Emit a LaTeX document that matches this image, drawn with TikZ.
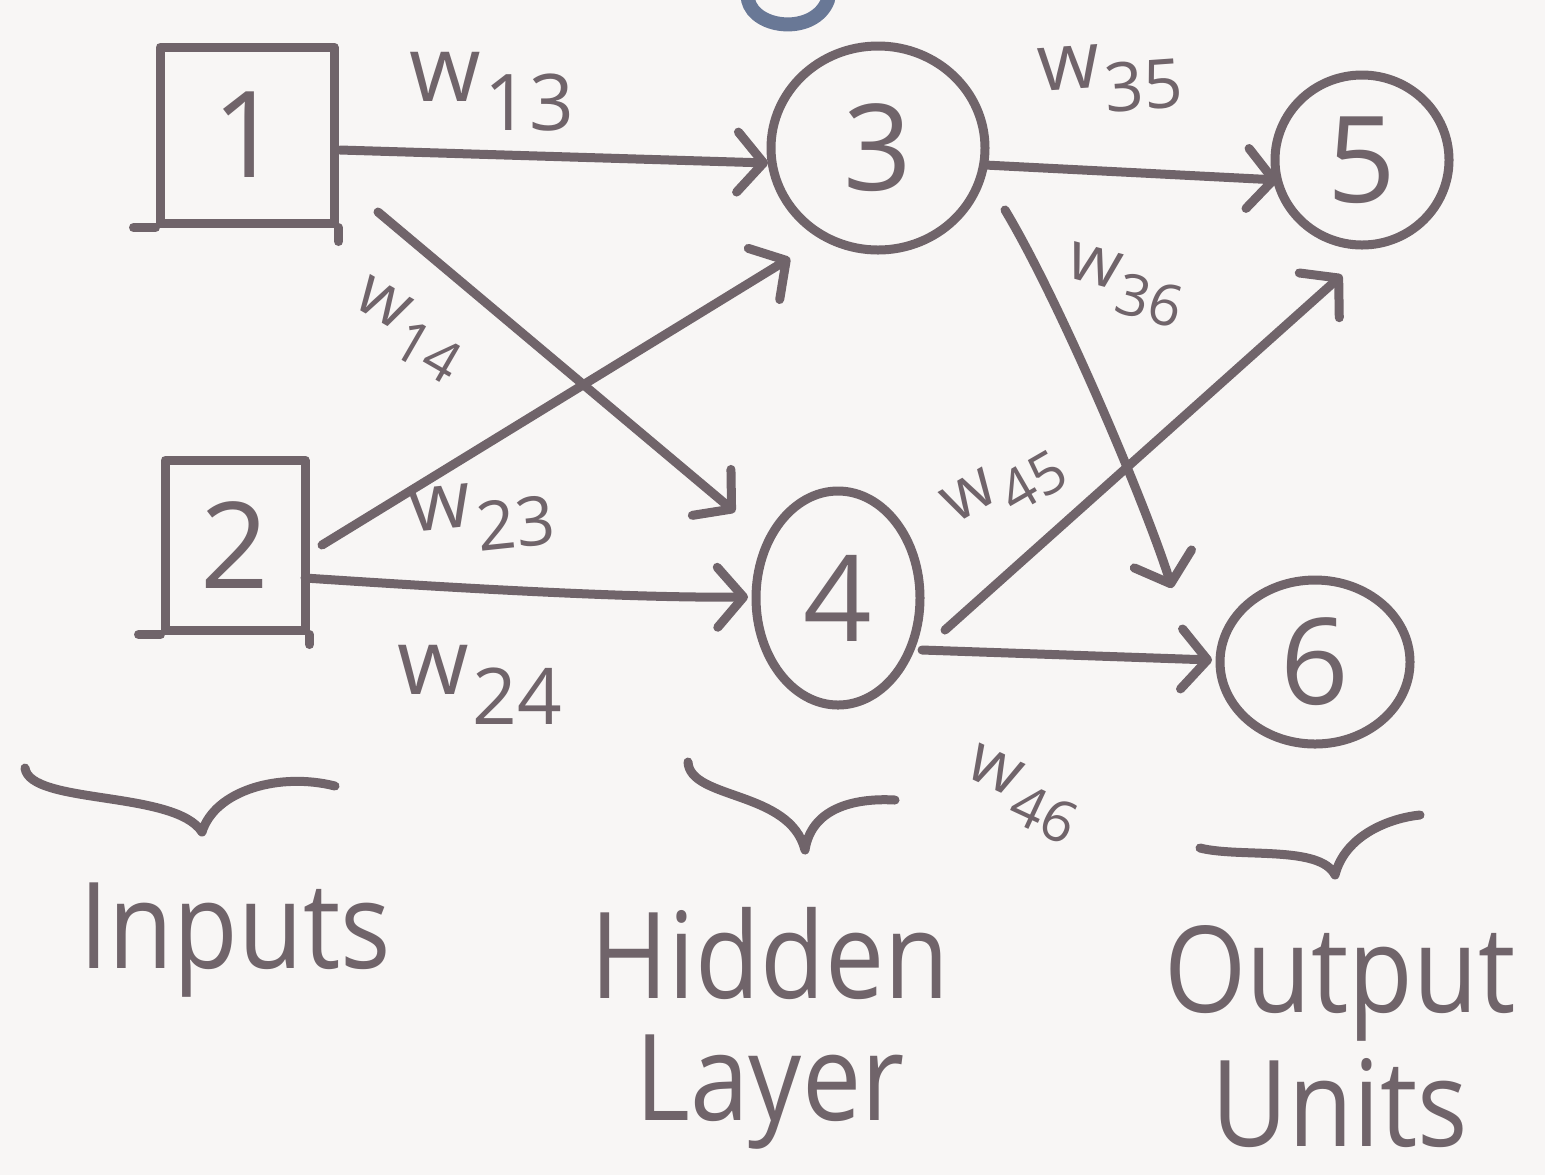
\documentclass[tikz,border=0pt]{standalone}
\usepackage{fontspec}
\setmainfont{Open Sans}
\usetikzlibrary{arrows.meta,shapes.geometric}
\definecolor{ink}{RGB}{112,100,106}
\definecolor{paper}{RGB}{248,246,245}
\definecolor{bluemark}{RGB}{105,120,150}
\newcommand{\wsub}[1]{w\kern0.04em\raisebox{-0.32em}{\scalebox{0.85}{#1}}}
\begin{document}
\begin{tikzpicture}[x=0.5pt,y=-0.5pt,
  every node/.style={text=ink},
  pen/.style={draw=ink, line width=4.5pt, line cap=round, line join=round},
  conn/.style={pen, -{Straight Barb[length=13pt,width=30pt,line cap=round,line join=round]}},
  boxnode/.style={pen, rectangle, inner sep=0pt, font=\fontsize{60}{60}\selectfont},
  unitnode/.style={pen, ellipse, inner sep=0pt, font=\fontsize{60}{60}\selectfont},
  wbig/.style={font=\fontsize{46}{46}\selectfont, inner sep=0pt},
  wmid/.style={font=\fontsize{40}{40}\selectfont, inner sep=0pt},
  wsmall/.style={font=\fontsize{34}{34}\selectfont, inner sep=0pt},
  caption/.style={font=\fontsize{60}{60}\selectfont, xscale=0.88, transform shape, anchor=base, inner sep=0pt}
]
\fill[paper] (0,0) rectangle (1545,1175);
\useasboundingbox (0,0) rectangle (1545,1175);

% stray blue mark at the top
\draw[bluemark, line width=7pt, line cap=round] (748,0) .. controls (755,30) and (815,35) .. (828,0);

% units
\node[boxnode, minimum width=87pt, minimum height=88pt] (n1) at (247,135) {1};
\node[boxnode, minimum width=70pt, minimum height=85pt] (n2) at (235,545) {2};
\node[unitnode, minimum width=107pt, minimum height=102pt] (n3) at (878,148) {3};
\node[unitnode, minimum width=82pt, minimum height=107pt] (n4) at (838,598) {4};
\node[unitnode, minimum width=87pt, minimum height=85pt] (n5) at (1362,160) {5};
\node[unitnode, minimum width=95pt, minimum height=82pt] (n6) at (1315,662) {6};

% hand-drawn overshoots of the boxes
\draw[pen] (n1.south west) -- ++(-22,0);
\draw[pen] (n1.south east) -- ++(0,14);
\draw[pen] (n2.south west) -- ++(-22,0);
\draw[pen] (n2.south east) -- ++(0,10);

% connections
\draw[conn] ([shift={(93,15)}]n1.center) -- ([shift={(-110,15)}]n3.center);
\draw[conn] ([shift={(131,77)}]n1.center) -- ([shift={(-103,-86)}]n4.center);
\draw[conn] ([shift={(87,0)}]n2.center) -- ([shift={(-88,110)}]n3.center);
\draw[conn] ([shift={(70,33)}]n2.center) .. controls ([shift={(250,45)}]n2.center) and ([shift={(-200,0)}]n4.center) .. ([shift={(-90,-1)}]n4.center);
\draw[conn] ([shift={(107,17)}]n3.center) -- ([shift={(-84,20)}]n5.center);
\draw[conn] ([shift={(127,62)}]n3.center) .. controls ([shift={(180,150)}]n3.center) and ([shift={(-170,-160)}]n6.center) .. ([shift={(-143,-74)}]n6.center);
\draw[conn] ([shift={(107,32)}]n4.center) -- ([shift={(-20,115)}]n5.center);
\draw[conn] ([shift={(84,52)}]n4.center) -- ([shift={(-103,-2)}]n6.center);

% weight labels
\node[wbig] (w13) at (492,92) {\wsub{13}};
\node[wsmall, rotate=-30] (w14) at (408,330) {\wsub{14}};
\node[wmid, rotate=6] (w23) at (482,517) {\wsub{23}};
\node[wbig] (w24) at (480,685) {\wsub{24}};
\node[wmid, rotate=4] (w35) at (1110,78) {\wsub{35}};
\node[wsmall, rotate=-15] (w36) at (1125,285) {\wsub{36}};
\node[wsmall, rotate=30] (w45) at (1005,488) {\wsub{45}};
\node[wsmall, rotate=-25] (w46) at (1022,795) {\wsub{46}};

% braces
\draw[pen] (25,768) .. controls (30,805) and (175,790) .. (202,832)
           .. controls (215,790) and (280,772) .. (335,786);
\draw[pen] (688,762) .. controls (690,800) and (790,790) .. (805,850)
           .. controls (812,805) and (860,798) .. (895,800);
\draw[pen] (1200,848) .. controls (1240,858) and (1320,845) .. (1335,875)
           .. controls (1345,835) and (1390,818) .. (1420,815);

% captions
\node[caption] (cin) at (235,968) {Inputs};
\node[caption] (chid) at (770,998) {Hidden};
\node[caption] (clay) at (770,1120) {Layer};
\node[caption] (cout) at (1340,1012) {Output};
\node[caption] (cunit) at (1340,1146) {Units};
\end{tikzpicture}
\end{document}
